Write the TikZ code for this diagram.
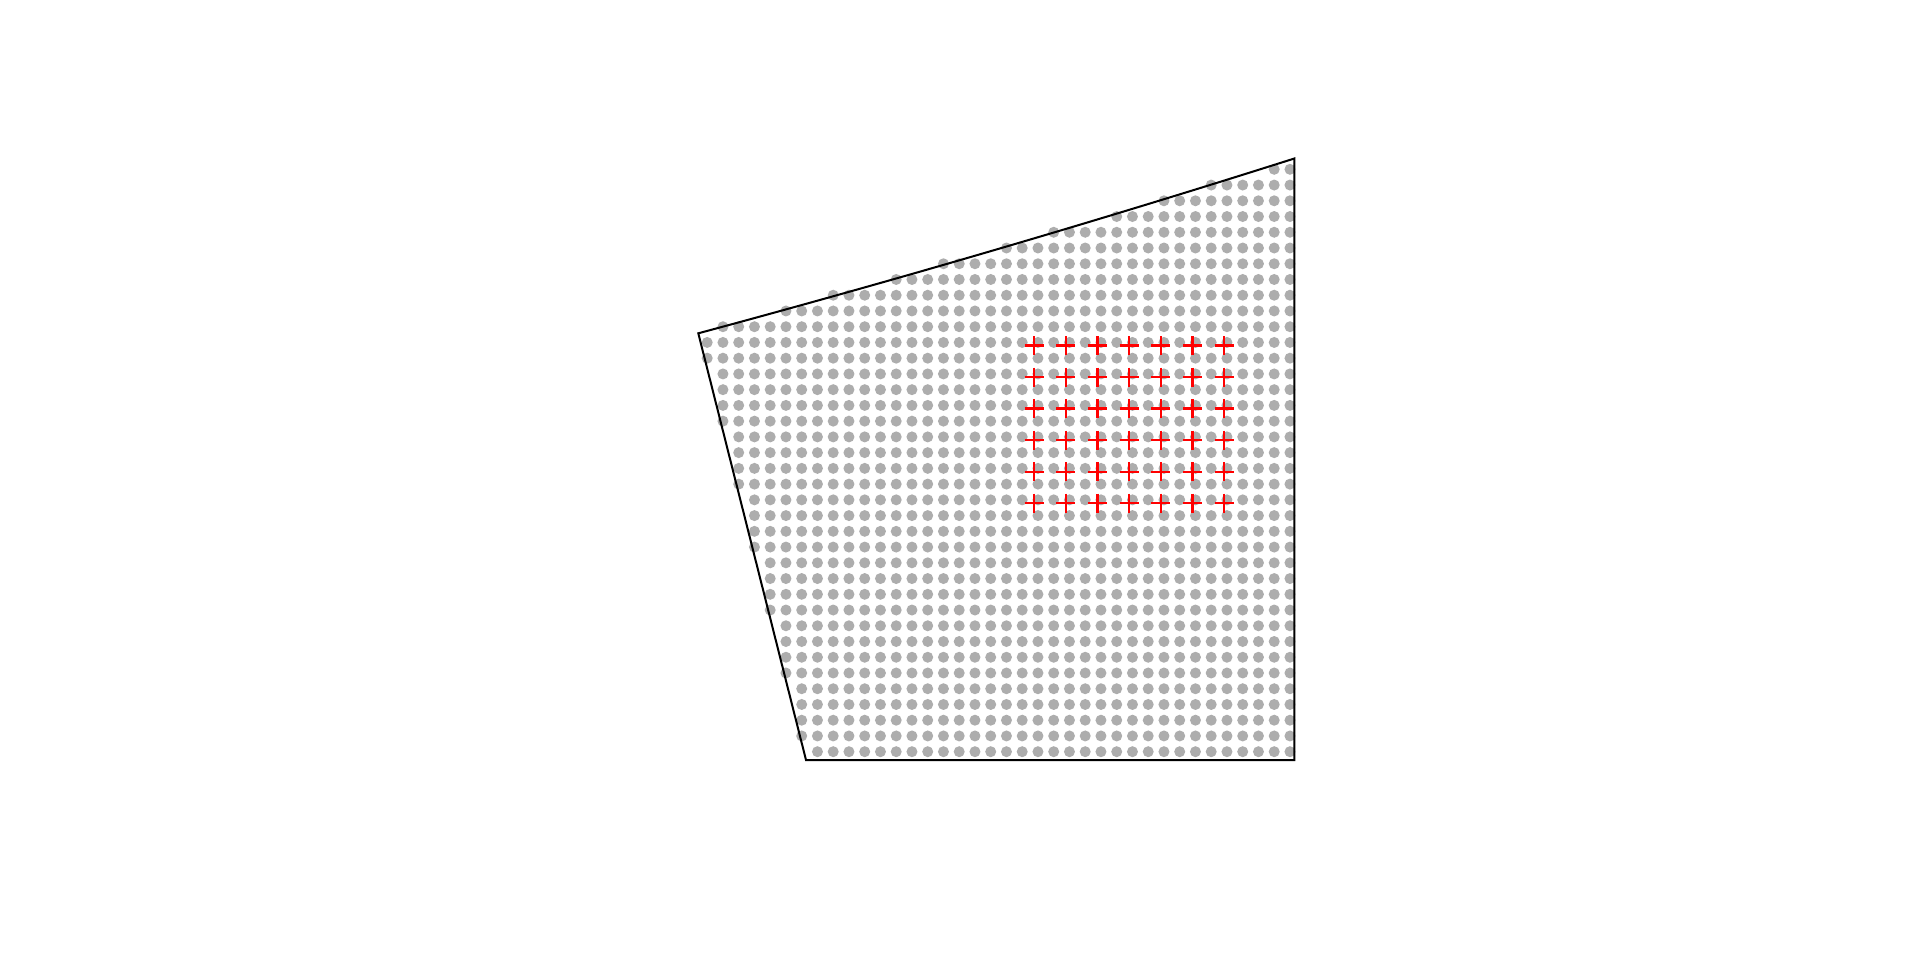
\documentclass[tikz,border=0pt]{standalone}
\usepackage{tikz}
\definecolor{dotgray}{RGB}{173,173,173}
\tikzset{
  dotmark/.style={fill=dotgray},
  crossmark/.style={draw=red, line width=1.1pt},
  outline/.style={draw=black, line width=1pt, line join=miter}
}
\begin{document}
\begin{tikzpicture}[x=0.5pt,y=-0.5pt]
\useasboundingbox[fill=white] (0,0) rectangle (1920,960);
\coordinate (A) at (698.3,333.3);
\coordinate (B) at (1294.3,158.5);
\coordinate (C) at (1294.3,760);
\coordinate (D) at (806,760);
\foreach \i in {0,...,37}{
  \foreach \j in {0,...,37}{
    \pgfmathsetmacro\px{707.2+15.75*\i}
    \pgfmathsetmacro\py{169.3+15.74*\j}
    \pgfmathsetmacro\bow{7.2*((\px-698.3)/596)*((1294.3-\px)/596)}
    \pgfmathtruncatemacro\ins{and(\py>333.3-0.2933*(\px-698.3)+\bow, \px>698.3+0.2524*(\py-333.3)) ? 1 : 0}
    \ifnum\ins=1 \fill[dotmark] (\px,\py) circle[radius=2.75pt];\fi
  }
}
\foreach \m in {0,...,6}{
  \foreach \n in {0,...,5}{
    \pgfmathsetmacro\cx{1034+31.7*\m}
    \pgfmathsetmacro\cy{345.5+31.54*\n}
    \draw[crossmark] (\cx-9.5,\cy) -- (\cx+9.5,\cy) (\cx,\cy-9.5) -- (\cx,\cy+9.5);
  }
}
\draw[outline] (A) .. controls (897,279.8) and (1095.6,221.6) .. (B) -- (C) -- (D) -- cycle;
\end{tikzpicture}
\end{document}
